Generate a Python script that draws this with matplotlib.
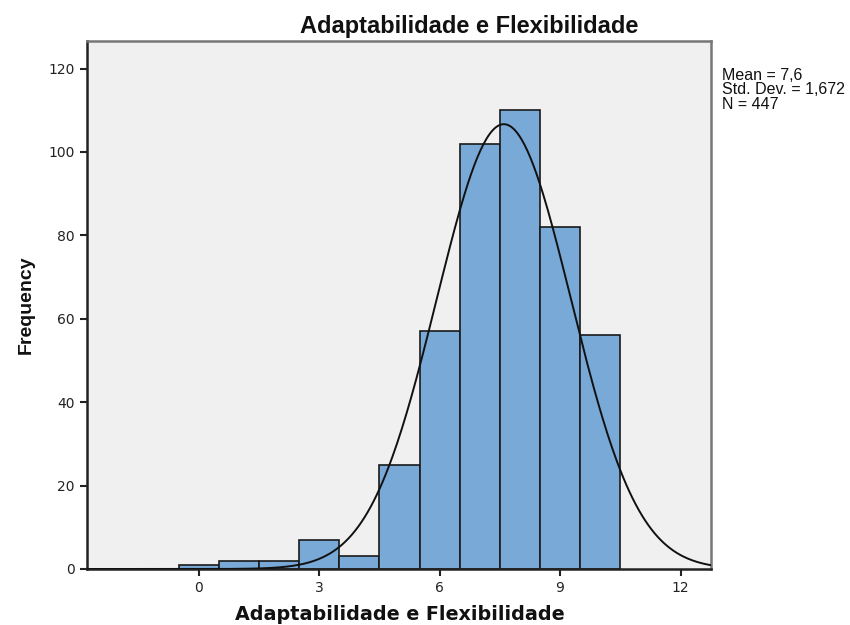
import numpy as np
import matplotlib
matplotlib.use("Agg")
import matplotlib.pyplot as plt

# frequencies per integer score (bins of width 1 centred on each score)
scores = [0, 1, 2, 3, 4, 5, 6, 7, 8, 9, 10]
counts = [1, 2, 2, 7, 3, 25, 57, 102, 110, 82, 56]
mean, sd, n = 7.6, 1.672, 447
title = "Adaptabilidade e Flexibilidade"

fig = plt.figure(figsize=(8.5, 6.25), dpi=100)
ax = fig.add_axes([0.1024, 0.0896, 0.7341, 0.8448])
ax.set_facecolor("#f0f0f0")

ax.bar(scores, counts, width=1.0, color="#79a9d7", edgecolor="#1a1a1a",
       linewidth=1.2, zorder=2)

# fitted normal curve scaled to counts
xs = np.linspace(-2.8, 12.8, 400)
ys = n * 1.0 / (sd * np.sqrt(2 * np.pi)) * np.exp(-0.5 * ((xs - mean) / sd) ** 2)
ax.plot(xs, ys, color="#111111", linewidth=1.4, zorder=3)

ax.set_xlim(-2.78, 12.76)
ax.set_ylim(0, 126.6)
ax.set_xticks([0, 3, 6, 9, 12])
ax.set_yticks([0, 20, 40, 60, 80, 100, 120])
ax.tick_params(direction="out", length=5, width=1.5, color="#222222",
               labelsize=10, labelcolor="#222222", pad=4)

for side in ["left", "bottom"]:
    ax.spines[side].set_color("#222222")
    ax.spines[side].set_linewidth(1.8)
for side in ["top", "right"]:
    ax.spines[side].set_color("#777777")
    ax.spines[side].set_linewidth(1.8)

fig.text(469 / 850, 1 - 26 / 625, title, fontsize=17, fontweight="bold",
         family="Liberation Sans", fontstretch="normal",
         ha="center", va="center", color="#111111")
fig.text(400 / 850, 1 - 614 / 625, title, fontsize=13.8, fontweight="bold",
         family="DejaVu Sans", ha="center", va="center", color="#111111")
ax.set_ylabel("Frequency", fontsize=14, fontweight="bold",
              family="Liberation Sans", labelpad=10, color="#111111")

fig.text(0.849, 1 - 68 / 625, "Mean = 7,6\nStd. Dev. = 1,672\nN = 447",
         fontsize=11.5, family="Liberation Sans", va="top", ha="left",
         linespacing=0.95, color="#111111")

fig.savefig("out.png", dpi=100, facecolor="white")
